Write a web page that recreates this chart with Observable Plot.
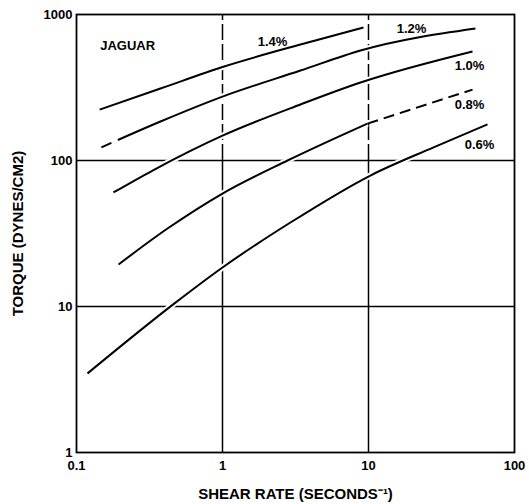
<!DOCTYPE html>
<html>
<head>
<meta charset="utf-8">
<script src="https://cdn.jsdelivr.net/npm/d3@7"></script>
<script src="https://cdn.jsdelivr.net/npm/@observablehq/plot@0.6"></script>
<style>
  html, body { margin: 0; padding: 0; background: #fff; }
</style>
</head>
<body>
<div id="chart"></div>
<script>
// Data (shear rate in s^-1, torque in dynes/cm^2)
const series = ["1.4%", "1.2%", "1.0%", "0.8%", "0.6%"];
const x14 = [0.144, 0.376, 1, 3.42, 9.24];
const y14 = [223, 311, 437, 623, 815];
const x12 = [0.148, 0.376, 1, 3.42, 8.82, 54];
const y12 = [123, 185, 274, 413, 567, 802];
const x10 = [0.179, 0.332, 1, 3.42, 8.82, 51.6];
const y10 = [60.4, 85.4, 148, 242, 342, 558];
const x08 = [0.194, 0.42, 1, 2.79, 9.84];
const y08 = [19.4, 34.2, 59.4, 100, 179];
const x08dashed = [9.84, 51.6];
const y08dashed = [179, 306];
const x06 = [0.119, 0.469, 1, 2.92, 10.3, 27.9, 65.3];
const y06 = [3.48, 10.5, 18.5, 37.6, 78.9, 123, 177];

const xTicks = [0.1, 1, 10, 100];
const xTickLabels = ["0.1", "1", "10", "100"];
const yTicks = [1, 10, 100, 1000];
const yTickLabels = ["1", "10", "100", "1000"];

// annotation labels (data coordinates)
const labelText = ["JAGUAR", "1.4%", "1.2%", "1.0%", "0.8%", "0.6%"];
const labelX = [0.224, 2.2, 19.7, 49.2, 49.2, 57.6];
const labelY = [613, 653, 802, 448, 242, 129];

const rows = (name, xs, ys) => xs.map((x, i) => ({series: name, x, y: ys[i]}));
const solid = [
  ...rows("1.4%", x14, y14),
  ...rows("1.0%", x10, y10),
  ...rows("0.8%", x08, y08),
  ...rows("0.6%", x06, y06)
];
const gapped = rows("1.2%", x12, y12);
const dashed = rows("0.8%d", x08dashed, y08dashed);
const labels = labelText.map((t, i) => ({t, x: labelX[i], y: labelY[i]}));

const font = "'Liberation Sans', Arial, sans-serif";
const lineOpts = {x: "x", y: "y", z: "series", curve: "monotone-x", strokeLinecap: "butt"};

const chart = Plot.plot({
  width: 529,
  height: 504,
  marginLeft: 76,
  marginRight: 15,
  marginTop: 14,
  marginBottom: 52,
  style: {fontFamily: font, fontWeight: "bold", fontSize: "13px", color: "#000", background: "#fff"},
  x: {type: "log", domain: [0.1, 100]},
  y: {type: "log", domain: [1, 1000]},
  marks: [
    // grid lines
    Plot.ruleY([10, 100], {stroke: "#000", strokeWidth: 1.5}),
    Plot.ruleX([1, 10], {y1: 1, y2: 100, stroke: "#000", strokeWidth: 1.5}),
    Plot.ruleX([1, 10], {y1: 100, y2: 1000, stroke: "#000", strokeWidth: 1.5, strokeDasharray: "16,4"}),
    // white halos breaking the grid at crossings
    Plot.line(solid, {...lineOpts, stroke: "#fff", strokeWidth: 6}),
    Plot.line(gapped, {...lineOpts, stroke: "#fff", strokeWidth: 6}),
    // curves
    Plot.line(solid, {...lineOpts, stroke: "#000", strokeWidth: 2}),
    Plot.line(gapped, {...lineOpts, stroke: "#000", strokeWidth: 2, strokeDasharray: "11,7,9999"}),
    Plot.line(dashed, {...lineOpts, curve: "linear", stroke: "#000", strokeWidth: 2, strokeDasharray: "11,6"}),
    Plot.frame({stroke: "#000", strokeWidth: 1.8}),
    // axes
    Plot.axisX({
      ticks: xTicks,
      tickFormat: (d) => xTickLabels[xTicks.indexOf(d)],
      tickSize: 0,
      tickPadding: 8,
      fontSize: 13,
      label: null
    }),
    Plot.axisX({
      ticks: [],
      tickSize: 0,
      fontSize: 15,
      label: "SHEAR RATE (SECONDS\u207B\u00B9)",
      labelAnchor: "center",
      labelArrow: "none",
      labelOffset: 46
    }),
    Plot.axisY({
      ticks: yTicks,
      tickFormat: (d) => yTickLabels[yTicks.indexOf(d)],
      tickSize: 0,
      tickPadding: 4,
      fontSize: 13,
      label: null
    }),
    Plot.axisY({
      ticks: [],
      tickSize: 0,
      fontSize: 15,
      label: "TORQUE (DYNES/CM2)",
      labelAnchor: "center",
      labelArrow: "none",
      labelOffset: 64
    }),
    // annotations
    Plot.text(labels, {x: "x", y: "y", text: "t", fontSize: 13, fontWeight: "bold", fill: "#000"})
  ]
});
document.getElementById("chart").appendChild(chart);
</script>
</body>
</html>
